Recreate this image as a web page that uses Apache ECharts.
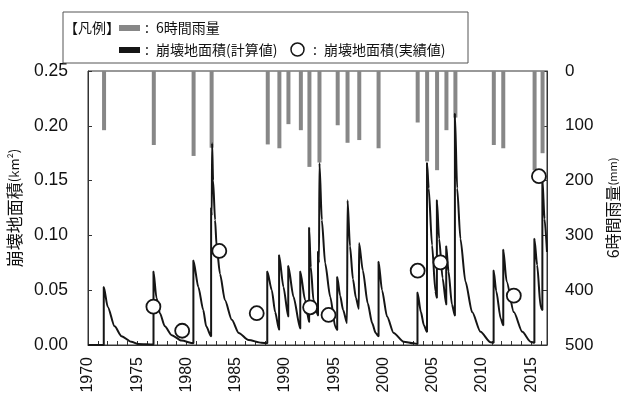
<!DOCTYPE html>
<html>
<head>
<meta charset="utf-8">
<script src="https://cdn.jsdelivr.net/npm/echarts@6/dist/echarts.min.js"></script>
<style>
  html, body { margin: 0; padding: 0; background: #fff; }
  #container { width: 621px; height: 394px; }
</style>
</head>
<body>
<div id="container"></div>
<script>
// 6時間雨量 (mm) : 年と値
var rainYears = [1971.63, 1976.68, 1980.72, 1982.55, 1988.25, 1989.43, 1990.35, 1991.61, 1992.48, 1993.5,
                 1995.35, 1996.35, 1997.54, 1999.5, 2003.47, 2004.43, 2005.44, 2006.39, 2007.3,
                 2011.2, 2012.16, 2015.34, 2016.15];
var rainMm = [108, 135, 155, 140, 134, 141, 97, 108, 175, 167,
              99, 131, 126, 141, 94, 165, 181, 108, 85,
              135, 141, 181, 150];

// 崩壊地面積 (計算値)
var calcYears = [1970, 1971.6, 1971.6, 1972.0, 1972.7, 1973.4, 1974.4, 1975.1, 1976.65,
                 1976.65, 1976.95, 1977.3, 1977.8, 1978.5, 1979.5, 1980.7,
                 1980.7, 1981.2, 1981.7, 1982.0, 1982.5,
                 1982.5, 1982.56, 1982.6, 1982.7, 1982.9, 1983.06, 1983.4, 1983.9, 1984.6, 1985.3, 1986.3, 1987.6, 1988.2,
                 1988.2, 1988.66, 1989.0, 1989.4,
                 1989.4, 1989.84, 1990.33,
                 1990.33, 1990.86, 1991.55,
                 1991.55, 1992.04, 1992.45,
                 1992.45, 1992.62, 1992.89, 1993.35,
                 1993.35, 1993.45, 1993.5, 1993.74, 1994.08, 1994.59, 1995.1, 1995.3,
                 1995.3, 1995.6, 1995.9, 1996.3,
                 1996.35, 1996.6, 1996.9, 1997.2, 1997.5,
                 1997.52, 1997.9, 1998.4, 1998.85, 1999.2, 1999.5,
                 1999.5, 1999.85, 2000.36, 2001.03, 2002.05, 2003.06, 2003.45,
                 2003.45, 2003.8, 2004.1, 2004.42,
                 2004.42, 2004.59, 2004.93, 2005.27, 2005.42,
                 2005.42, 2005.65, 2006.0, 2006.37,
                 2006.37, 2006.6, 2006.95, 2007.25,
                 2007.25, 2007.48, 2007.81, 2008.32, 2009.0, 2009.85, 2010.87, 2011.18,
                 2011.18, 2011.45, 2011.9, 2012.16,
                 2012.16, 2012.5, 2013.23, 2014.09, 2014.93, 2015.32,
                 2015.32, 2015.6, 2015.95, 2016.13,
                 2016.13, 2016.35, 2016.6];
var calcArea = [0, 0, 0.053, 0.035, 0.017, 0.008, 0.003, 0.001, 0.0005,
                0.067, 0.043, 0.029, 0.017, 0.009, 0.004, 0.0015,
                0.077, 0.053, 0.032, 0.017, 0.008,
                0.125, 0.118, 0.184, 0.15, 0.114, 0.09, 0.065, 0.041, 0.023, 0.011, 0.0046, 0.002, 0.0015,
                0.067, 0.050, 0.030, 0.014,
                0.082, 0.053, 0.026,
                0.072, 0.044, 0.015,
                0.067, 0.041, 0.021,
                0.107, 0.071, 0.041, 0.027,
                0.085, 0.075, 0.166, 0.114, 0.0745, 0.044, 0.017, 0.0137,
                0.062, 0.045, 0.032, 0.020,
                0.132, 0.090, 0.060, 0.043, 0.033,
                0.093, 0.068, 0.038, 0.020, 0.011, 0.008,
                0.076, 0.050, 0.026, 0.011, 0.003, 0.0015, 0.001,
                0.048, 0.030, 0.018, 0.012,
                0.166, 0.143, 0.091, 0.049, 0.043,
                0.132, 0.097, 0.061, 0.037,
                0.090, 0.067, 0.037, 0.027,
                0.211, 0.143, 0.097, 0.058, 0.030, 0.012, 0.0025, 0.002,
                0.068, 0.049, 0.024, 0.018,
                0.087, 0.058, 0.030, 0.012, 0.003, 0.002,
                0.097, 0.073, 0.035, 0.032,
                0.152, 0.115, 0.085];

// 崩壊地面積 (実績値)
var obsYears = [1976.64, 1979.56, 1983.33, 1987.13, 1992.55, 1994.42, 2003.47, 2005.78, 2013.23, 2015.78];
var obsArea = [0.035, 0.013, 0.0858, 0.029, 0.0344, 0.0274, 0.0678, 0.0754, 0.045, 0.154];

var latin = '"Liberation Sans", Arial, sans-serif';
var cjk = '"Noto Sans CJK JP", sans-serif';

var dom = document.getElementById('container');
var myChart = echarts.init(dom, null, { renderer: 'canvas' });

var option = {
    animation: false,
    grid: {
        left: 88, right: 74, top: 71, bottom: 49,
        containLabel: false, outerBoundsMode: 'none',
        show: true, borderColor: '#333', borderWidth: 1
    },
    xAxis: {
        type: 'value',
        min: 1970, max: 2016.6, interval: 1,
        axisLine: { lineStyle: { color: '#333' } },
        axisTick: { inside: true, length: 4, lineStyle: { color: '#333' } },
        splitLine: { show: false },
        axisLabel: {
            rotate: 90, margin: 12, color: '#111',
            fontFamily: latin, fontSize: 16,
            formatter: function (v) { return v % 5 === 0 ? String(v) : ''; }
        }
    },
    yAxis: [
        {
            type: 'value', position: 'left',
            min: 0, max: 0.25, interval: 0.05,
            name: '崩壊地面積{u|(km²)}',
            nameLocation: 'middle', nameRotate: 90, nameGap: 62,
            nameTextStyle: {
                fontFamily: cjk, fontSize: 17, color: '#111',
                rich: { u: { fontFamily: cjk, fontSize: 13, color: '#111' } }
            },
            axisLine: { show: true, lineStyle: { color: '#333' } },
            axisTick: { show: true, inside: true, length: 4, lineStyle: { color: '#333' } },
            splitLine: { show: false },
            axisLabel: {
                margin: 20, color: '#111', fontFamily: latin, fontSize: 17.5,
                formatter: function (v) { return v.toFixed(2); }
            }
        },
        {
            type: 'value', position: 'right',
            min: 0, max: 500, interval: 100, inverse: true,
            name: '6時間雨量{u|(mm)}',
            nameLocation: 'middle', nameRotate: 90, nameGap: 58,
            nameTextStyle: {
                fontFamily: cjk, fontSize: 16, color: '#111',
                rich: { u: { fontFamily: cjk, fontSize: 11, color: '#111' } }
            },
            axisLine: { show: true, lineStyle: { color: '#333' } },
            axisTick: { show: true, inside: true, length: 4, lineStyle: { color: '#333' } },
            splitLine: { show: false },
            axisLabel: { margin: 18, color: '#111', fontFamily: latin, fontSize: 17 }
        }
    ],
    series: [
        {
            name: '6時間雨量',
            type: 'bar',
            yAxisIndex: 1,
            barWidth: 4,
            itemStyle: { color: '#878787' },
            data: rainYears.map(function (y, i) { return [y, rainMm[i]]; }),
            z: 1
        },
        {
            name: '崩壊地面積(計算値)',
            type: 'line',
            yAxisIndex: 0,
            showSymbol: false,
            smooth: 0.25,
            smoothMonotone: 'x',
            lineStyle: { color: '#151515', width: 2 },
            data: calcYears.map(function (y, i) { return [y, calcArea[i]]; }),
            z: 3
        },
        {
            name: '崩壊地面積(実績値)',
            type: 'scatter',
            yAxisIndex: 0,
            symbol: 'circle',
            symbolSize: 14,
            itemStyle: { color: '#fff', opacity: 1, borderColor: '#151515', borderWidth: 1.8 },
            data: obsYears.map(function (y, i) { return [y, obsArea[i]]; }),
            z: 5
        }
    ],
    // 凡例 (枠付き)
    graphic: [
        { type: 'rect', shape: { x: 63, y: 12, width: 405, height: 51 },
          style: { fill: '#fff', stroke: '#555', lineWidth: 1 }, z: 10 },
        { type: 'text', x: 64, y: 28, z: 11,
          style: { text: '【凡例】', fontFamily: cjk, fontSize: 14, fill: '#111', verticalAlign: 'middle' } },
        { type: 'rect', shape: { x: 119, y: 25, width: 21, height: 6 }, style: { fill: '#878787' }, z: 11 },
        { type: 'text', x: 145, y: 28, z: 11,
          style: { text: ':', fontFamily: cjk, fontSize: 14, fill: '#111', verticalAlign: 'middle' } },
        { type: 'text', x: 156, y: 28, z: 11,
          style: { text: '6時間雨量', fontFamily: cjk, fontSize: 14, fill: '#111', verticalAlign: 'middle' } },
        { type: 'rect', shape: { x: 119, y: 47, width: 21, height: 6 }, style: { fill: '#151515' }, z: 11 },
        { type: 'text', x: 145, y: 50, z: 11,
          style: { text: ':', fontFamily: cjk, fontSize: 14, fill: '#111', verticalAlign: 'middle' } },
        { type: 'text', x: 156, y: 50, z: 11,
          style: { text: '崩壊地面積(計算値)', fontFamily: cjk, fontSize: 14, fill: '#111', verticalAlign: 'middle' } },
        { type: 'circle', shape: { cx: 297.5, cy: 49.5, r: 6.5 },
          style: { fill: '#fff', stroke: '#151515', lineWidth: 1.5 }, z: 11 },
        { type: 'text', x: 313, y: 50, z: 11,
          style: { text: ':', fontFamily: cjk, fontSize: 14, fill: '#111', verticalAlign: 'middle' } },
        { type: 'text', x: 324, y: 50, z: 11,
          style: { text: '崩壊地面積(実績値)', fontFamily: cjk, fontSize: 14, fill: '#111', verticalAlign: 'middle' } }
    ]
};

myChart.setOption(option);
window.addEventListener('resize', myChart.resize);
</script>
</body>
</html>
